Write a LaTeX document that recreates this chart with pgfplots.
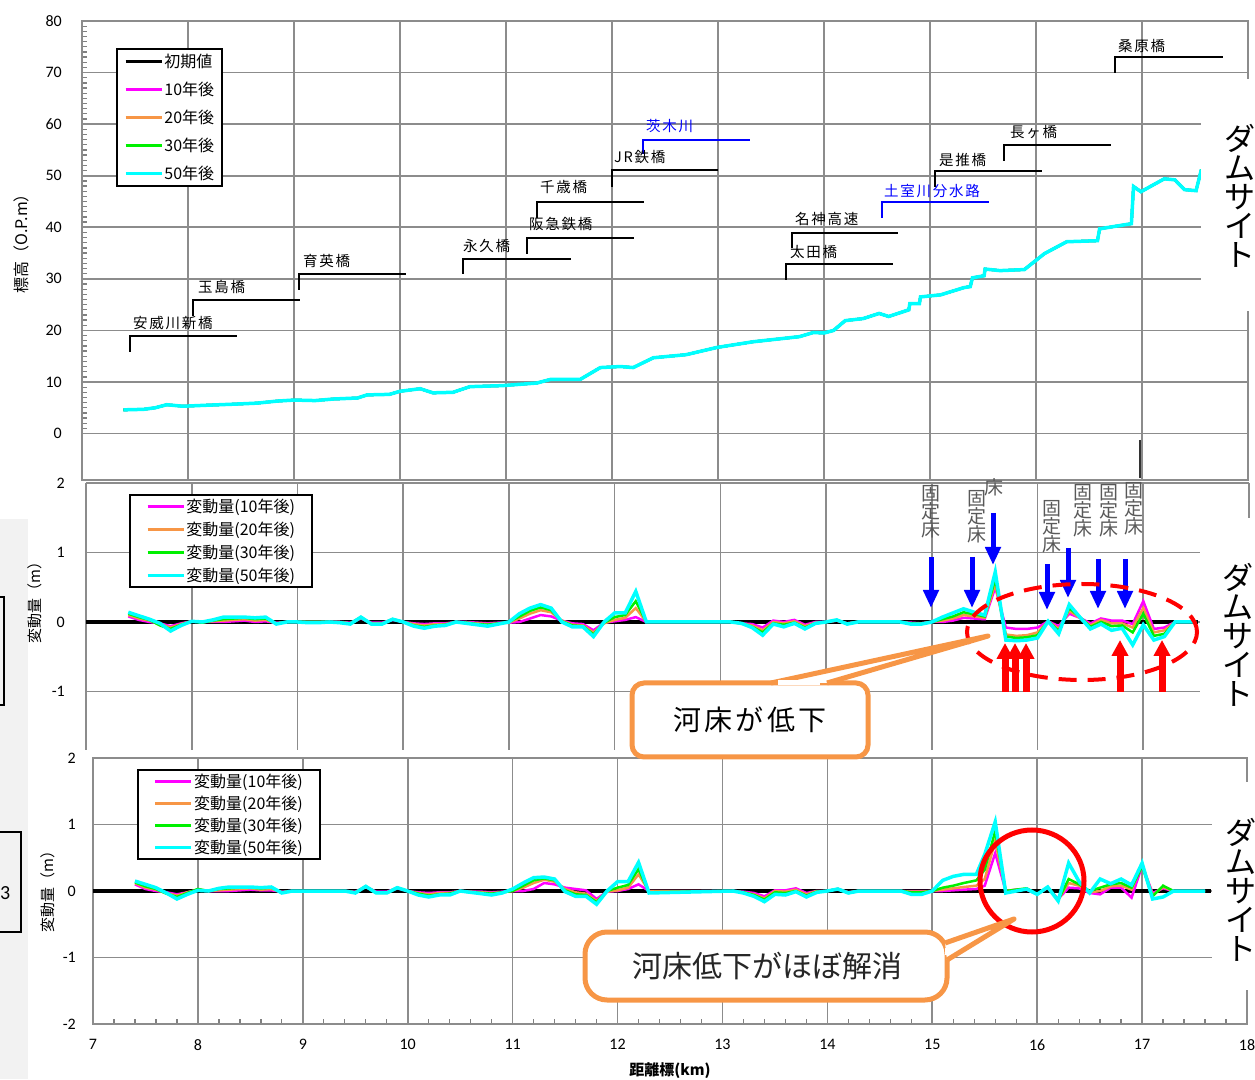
\documentclass[border=0pt]{standalone}
\usepackage{fontspec}
\setmainfont{Carlito}
\newfontfamily\jp{Noto Sans CJK JP}
\newfontfamily\jpls[LetterSpace=12]{Noto Sans CJK JP}
\usepackage{pgfplots}
\usepackage{pgfplotstable}
\pgfplotsset{compat=1.18}
\usetikzlibrary{arrows.meta}

\definecolor{gridgray}{RGB}{140,140,140}
\definecolor{cmag}{RGB}{255,0,255}
\definecolor{corange}{RGB}{247,150,70}
\definecolor{cgreen}{RGB}{0,240,0}
\definecolor{ccyan}{RGB}{0,255,255}
\definecolor{cblue}{RGB}{0,0,255}
\definecolor{cred}{RGB}{255,0,0}
\definecolor{callout}{RGB}{247,150,70}

\pgfplotstableread{
x y
7.39 4.6
7.58 4.7
7.69 5.0
7.80 5.6
7.95 5.3
8.18 5.5
8.43 5.7
8.65 5.9
8.84 6.3
9.00 6.5
9.20 6.4
9.37 6.7
9.60 6.9
9.69 7.5
9.90 7.6
10.00 8.2
10.19 8.7
10.31 7.9
10.50 8.0
10.66 9.1
10.97 9.3
11.29 9.8
11.42 10.5
11.70 10.5
11.89 12.8
12.08 13.0
12.20 12.8
12.39 14.7
12.70 15.3
12.99 16.7
13.33 17.8
13.77 18.8
13.90 19.6
14.00 19.5
14.09 20.0
14.20 21.9
14.37 22.3
14.52 23.3
14.61 22.7
14.80 24.0
14.81 25.2
14.90 25.2
14.91 26.5
15.10 26.9
15.32 28.3
15.38 28.5
15.40 30.2
15.51 30.6
15.52 31.9
15.66 31.6
15.89 31.8
16.08 34.9
16.29 37.2
16.58 37.4
16.60 39.7
16.90 40.7
16.92 47.9
16.99 46.9
17.21 49.4
17.31 49.2
17.40 47.3
17.51 47.1
17.56 51.2
}\tblTop

\pgfplotstableread{
x a b c d
7.4 0.08 0.10 0.12 0.14
7.5 0.03 0.05 0.07 0.09
7.6 0.00 0.02 0.03 0.04
7.7 -0.02 -0.03 -0.05 -0.02
7.8 -0.06 -0.08 -0.10 -0.13
7.9 -0.02 -0.03 -0.04 -0.05
8.0 0.01 0.01 0.01 0.01
8.1 0.00 0.00 -0.01 0.00
8.2 0.00 0.01 0.02 0.03
8.3 0.00 0.02 0.04 0.07
8.4 0.01 0.03 0.05 0.07
8.5 0.02 0.04 0.06 0.07
8.6 0.00 0.02 0.04 0.06
8.7 0.01 0.03 0.05 0.07
8.8 -0.01 -0.02 -0.02 -0.03
8.9 0.00 0.00 0.00 0.00
9.0 0.00 0.00 0.00 0.00
9.1 0.00 0.00 0.00 -0.01
9.2 0.00 0.00 0.00 -0.01
9.3 0.00 0.00 0.00 0.00
9.4 0.00 0.00 -0.01 -0.01
9.5 -0.01 -0.02 -0.02 -0.03
9.6 0.05 0.06 0.07 0.07
9.7 -0.01 -0.02 -0.03 -0.03
9.8 -0.01 -0.02 -0.03 -0.03
9.9 0.03 0.04 0.04 0.04
10.0 0.00 0.00 0.00 0.00
10.1 -0.02 -0.03 -0.05 -0.06
10.2 -0.03 -0.05 -0.07 -0.09
10.3 -0.02 -0.03 -0.05 -0.06
10.4 -0.02 -0.03 -0.04 -0.05
10.5 0.00 0.00 0.00 0.00
10.6 0.00 -0.01 -0.01 -0.02
10.7 -0.01 -0.02 -0.03 -0.04
10.8 -0.02 -0.03 -0.04 -0.06
10.9 -0.01 -0.02 -0.02 -0.03
11.0 -0.01 -0.01 0.00 0.00
11.1 0.00 0.05 0.08 0.12
11.2 0.05 0.12 0.16 0.20
11.3 0.10 0.17 0.21 0.25
11.4 0.08 0.14 0.17 0.20
11.5 0.02 0.02 0.01 0.00
11.6 -0.02 -0.04 -0.05 -0.07
11.7 -0.03 -0.05 -0.06 -0.07
11.8 -0.12 -0.15 -0.18 -0.21
11.9 -0.01 -0.02 -0.01 0.00
12.0 0.01 0.03 0.07 0.13
12.1 0.03 0.06 0.10 0.13
12.2 0.07 0.20 0.30 0.44
12.3 0.00 0.00 0.00 0.00
13.1 0.00 0.00 0.00 0.00
13.2 -0.02 -0.02 -0.02 -0.02
13.3 -0.03 -0.05 -0.07 -0.08
13.4 -0.08 -0.12 -0.15 -0.19
13.5 0.02 0.00 -0.02 -0.03
13.6 0.00 -0.02 -0.04 -0.07
13.7 0.03 0.01 -0.01 -0.02
13.8 -0.04 -0.06 -0.08 -0.10
13.9 0.00 -0.01 -0.02 -0.02
14.0 0.00 0.00 0.00 0.00
14.1 0.02 0.02 0.03 0.03
14.2 -0.02 -0.02 -0.03 -0.03
14.3 0.00 0.00 0.00 0.00
14.7 0.00 0.00 0.00 0.00
14.8 -0.01 -0.02 -0.02 -0.03
14.9 -0.02 -0.02 -0.03 -0.03
15.0 0.00 0.00 0.00 0.00
15.1 0.00 0.02 0.04 0.07
15.2 0.02 0.05 0.08 0.13
15.3 0.06 0.10 0.14 0.19
15.4 0.05 0.08 0.11 0.14
15.5 0.04 0.06 0.08 0.10
15.6 0.50 0.55 0.62 0.72
15.7 -0.08 -0.18 -0.21 -0.26
15.8 -0.10 -0.20 -0.23 -0.27
15.9 -0.10 -0.19 -0.22 -0.26
16.0 -0.08 -0.15 -0.19 -0.23
16.1 0.01 0.01 0.01 0.01
16.2 -0.06 -0.10 -0.13 -0.17
16.3 0.12 0.16 0.20 0.25
16.4 0.06 0.06 0.07 0.07
16.5 -0.02 -0.05 -0.07 -0.10
16.6 0.05 0.03 0.00 -0.03
16.7 0.02 -0.02 -0.06 -0.12
16.8 0.02 -0.02 -0.05 -0.09
16.9 -0.03 -0.08 -0.15 -0.33
17.0 0.30 0.20 0.12 -0.04
17.1 -0.10 -0.15 -0.20 -0.26
17.2 -0.08 -0.12 -0.17 -0.21
17.3 0.00 0.00 0.00 0.00
17.5 0.00 0.00 0.00 0.00
}\tblMid

\pgfplotstableread{
x a b c d
7.4 0.10 0.12 0.13 0.15
7.5 0.03 0.05 0.07 0.10
7.6 0.00 0.02 0.03 0.05
7.7 -0.02 -0.03 -0.04 -0.03
7.8 -0.05 -0.07 -0.09 -0.12
7.9 -0.02 -0.02 -0.03 -0.05
8.0 0.02 0.02 0.03 0.01
8.1 0.00 0.00 0.00 0.00
8.2 0.00 0.01 0.03 0.04
8.3 0.00 0.02 0.04 0.06
8.4 0.01 0.03 0.05 0.06
8.5 0.02 0.04 0.05 0.06
8.6 0.01 0.02 0.04 0.05
8.7 0.01 0.03 0.05 0.06
8.8 -0.01 -0.02 -0.02 -0.03
8.9 0.00 0.00 0.00 0.00
9.4 0.00 0.00 0.00 0.00
9.5 -0.01 -0.02 -0.02 -0.03
9.6 0.06 0.07 0.07 0.07
9.7 -0.01 -0.02 -0.03 -0.03
9.8 -0.01 -0.02 -0.03 -0.03
9.9 0.04 0.05 0.05 0.05
10.0 0.00 0.00 0.00 0.00
10.1 -0.02 -0.03 -0.04 -0.06
10.2 -0.03 -0.05 -0.07 -0.09
10.3 -0.02 -0.03 -0.05 -0.06
10.4 -0.02 -0.03 -0.04 -0.06
10.5 0.00 0.00 0.00 0.00
10.6 -0.01 -0.01 -0.02 -0.02
10.7 -0.01 -0.02 -0.03 -0.04
10.8 -0.02 -0.03 -0.04 -0.06
10.9 -0.01 -0.02 -0.02 -0.03
11.0 0.00 0.00 0.00 0.03
11.1 0.00 0.05 0.08 0.12
11.2 0.03 0.12 0.16 0.20
11.3 0.12 0.17 0.19 0.21
11.4 0.10 0.14 0.16 0.18
11.5 0.05 0.03 0.01 -0.01
11.6 0.03 -0.02 -0.05 -0.08
11.7 0.01 -0.04 -0.06 -0.08
11.8 -0.12 -0.15 -0.17 -0.20
11.9 -0.01 -0.01 0.00 0.00
12.0 0.00 0.01 0.05 0.14
12.1 0.03 0.05 0.09 0.14
12.2 0.10 0.25 0.33 0.43
12.3 0.00 0.00 -0.02 -0.03
13.1 0.00 0.00 0.00 0.00
13.2 -0.01 -0.02 -0.02 -0.03
13.3 -0.03 -0.05 -0.06 -0.08
13.4 -0.08 -0.11 -0.13 -0.16
13.5 0.01 0.00 -0.02 -0.05
13.6 0.01 -0.01 -0.03 -0.06
13.7 0.04 0.02 0.00 -0.01
13.8 -0.03 -0.05 -0.07 -0.09
13.9 0.00 0.00 -0.01 -0.02
14.0 0.00 0.00 0.00 0.00
14.1 0.03 0.03 0.03 0.03
14.2 -0.02 -0.02 -0.03 -0.03
14.3 0.00 0.00 0.00 0.00
14.7 0.00 0.00 0.00 0.00
14.8 0.00 -0.01 -0.02 -0.05
14.9 0.00 -0.01 -0.02 -0.05
15.0 0.00 0.00 0.00 0.00
15.1 0.00 0.02 0.05 0.16
15.2 0.01 0.04 0.08 0.22
15.3 0.02 0.06 0.12 0.25
15.42 0.03 0.08 0.16 0.25
15.5 0.08 0.18 0.32 0.55
15.6 0.57 0.75 0.90 1.04
15.7 0.00 0.00 0.00 -0.03
15.8 0.02 0.02 0.02 0.00
15.9 0.02 0.03 0.04 0.03
16.0 -0.05 -0.05 -0.05 -0.05
16.1 0.05 0.05 0.06 0.06
16.2 -0.12 -0.13 -0.14 -0.15
16.3 0.05 0.12 0.18 0.42
16.4 0.04 0.08 0.10 0.14
16.5 -0.03 -0.02 0.00 -0.03
16.6 -0.05 0.00 0.05 0.18
16.7 0.05 0.07 0.10 0.11
16.8 0.05 0.08 0.12 0.18
16.9 -0.10 0.02 0.05 0.09
17.0 0.38 0.40 0.37 0.42
17.1 -0.03 -0.06 -0.08 -0.12
17.2 0.04 0.06 0.08 -0.09
17.3 0.00 0.00 0.00 0.00
17.6 0.00 0.00 0.00 0.00
}\tblBot

\pgfplotsset{
 panel/.style={
  scale only axis, xmin=7, xmax=18, xtick={7,...,18},
  grid=major, grid style={line width=1.6pt, draw=gridgray},
  axis line style={line width=1.6pt, draw=gridgray},
  major tick length=0pt, minor tick length=5pt,
  minor tick style={line width=1.3pt, draw=gray},
  tick align=inside,
  /pgf/number format/assume math mode=true,
  ticklabel style={font=\fontsize{16}{16}\selectfont, text=black},
  legend cell align=left,
  legend image code/.code={\draw[##1, line width=3.5pt] (0pt,0pt) -- (36pt,0pt);},
 },
}

\begin{document}
\begin{tikzpicture}
\path[use as bounding box] (0pt,0pt) rectangle (1255pt,1079pt);
\fill[black!5] (0pt,0pt) rectangle (28pt,560pt);

% ---------- top panel ----------
\begin{axis}[panel, at={(82pt,599pt)}, anchor=south west, width=1166pt, height=459pt,
  ymin=-9, ymax=80, ytick={0,10,...,80}, minor y tick num=9, xticklabels={},
  ytick pos=left, xtick pos=bottom,
  yticklabel style={anchor=east, inner sep=0pt, xshift=-20pt},
  legend style={at={(0.0292,0.941)}, anchor=north west, draw=black, line width=1.8pt,
    fill=white, font=\jp\fontsize{16}{16}\selectfont, inner xsep=7pt, inner ysep=4pt,
    row sep=11pt, nodes={inner sep=1pt}},
]
\addplot[black, line width=2.5pt] table[x=x,y=y]{\tblTop}; \addlegendentry{初期値}
\addplot[cmag, line width=2.5pt] table[x=x,y=y]{\tblTop}; \addlegendentry{10年後}
\addplot[corange, line width=2.5pt] table[x=x,y=y]{\tblTop}; \addlegendentry{20年後}
\addplot[cgreen, line width=2.5pt] table[x=x,y=y]{\tblTop}; \addlegendentry{30年後}
\addplot[ccyan, line width=3.5pt] table[x=x,y=y]{\tblTop}; \addlegendentry{50年後}
\end{axis}

% ---------- middle panel ----------
\begin{axis}[panel, at={(86pt,329pt)}, anchor=south west, width=1163pt, height=267pt,
  ymin=-1.842, ymax=2, ytick={-1,0,1,2}, xticklabels={},
  axis x line*=top, axis y line*=left,
  yticklabel style={anchor=east, inner sep=0pt, xshift=-21pt},
  legend style={at={(0.037,0.959)}, anchor=north west, draw=black, line width=1.8pt,
    fill=white, font=\jp\fontsize{16}{16}\selectfont, inner xsep=16pt, inner ysep=3pt,
    row sep=6pt, nodes={inner sep=1pt}},
]
\addplot[black, line width=3.5pt, forget plot] coordinates {(7,0) (17.52,0)};
\addplot[cmag, line width=2.5pt] table[x=x,y=a]{\tblMid}; \addlegendentry{変動量(10年後)}
\addplot[corange, line width=2.5pt] table[x=x,y=b]{\tblMid}; \addlegendentry{変動量(20年後)}
\addplot[cgreen, line width=2.5pt] table[x=x,y=c]{\tblMid}; \addlegendentry{変動量(30年後)}
\addplot[ccyan, line width=3.5pt] table[x=x,y=d]{\tblMid}; \addlegendentry{変動量(50年後)}
\end{axis}

% ---------- bottom panel ----------
\begin{axis}[panel, at={(93pt,55pt)}, anchor=south west, width=1154pt, height=266pt,
  ymin=-2, ymax=2, ytick={-2,...,2}, minor x tick num=4, xtick pos=bottom, ytick pos=left,
  yticklabel style={anchor=east, inner sep=0pt, xshift=-17pt},
  xticklabel style={anchor=north, inner sep=0pt, yshift=-15pt},
  legend style={at={(0.038,0.959)}, anchor=north west, draw=black, line width=1.8pt,
    fill=white, font=\jp\fontsize{16}{16}\selectfont, inner xsep=16pt, inner ysep=3pt,
    row sep=5pt, nodes={inner sep=1pt}},
]
\addplot[black, line width=3.5pt, forget plot] coordinates {(7,0) (17.66,0)};
\addplot[cmag, line width=2.5pt] table[x=x,y=a]{\tblBot}; \addlegendentry{変動量(10年後)}
\addplot[corange, line width=2.5pt] table[x=x,y=b]{\tblBot}; \addlegendentry{変動量(20年後)}
\addplot[cgreen, line width=2.5pt] table[x=x,y=c]{\tblBot}; \addlegendentry{変動量(30年後)}
\addplot[ccyan, line width=3.5pt] table[x=x,y=d]{\tblBot}; \addlegendentry{変動量(50年後)}
\end{axis}

% ---------- annotations (pixel coordinates, y downward) ----------
\begin{scope}[shift={(0pt,1079pt)}, x=1pt, y=-1pt]
 % axis titles
 \node[rotate=90, font=\jp\fontsize{16}{16}\selectfont] at (21,240) {標高（O.P.m）};
 \node[rotate=90, font=\jp\fontsize{15}{15}\selectfont] at (35,599) {変動量（m）};
 \node[rotate=90, font=\jp\fontsize{15}{15}\selectfont] at (48,888) {変動量（m）};
 \node[font=\jp\bfseries\fontsize{15}{15}\selectfont] at (670,1071) {距離標(km)};
 % left fragments
 \draw[black, line width=1.5pt] (-5,597) -- (4,597) -- (4,705) -- (-5,705);
 \draw[black, line width=1.5pt] (-5,832) -- (21,832) -- (21,932) -- (-5,932);
 \node[font=\fontsize{20}{20}\selectfont, anchor=west, inner sep=0pt] at (0,893) {3};
 \draw[black!80, line width=2pt] (1140,440) -- (1140,478);

 % bridges
 \begin{scope}[line width=2.6pt]
 \draw (130,352) -- (130,336) -- (237,336);
 \draw (193,316) -- (193,300) -- (300,300);
 \draw (299,290) -- (299,274) -- (406,274);
 \draw (463,274) -- (463,259) -- (571,259);
 \draw (527,254) -- (527,238) -- (634,238);
 \draw (537,218) -- (537,202) -- (644,202);
 \draw (612,187) -- (612,170) -- (718,170);
 \draw[cblue] (643,154) -- (643,140) -- (750,140);
 \draw (792,248) -- (792,233) -- (898,233);
 \draw (786,280) -- (786,264) -- (893,264);
 \draw[cblue] (882,218) -- (882,202) -- (989,202);
 \draw (935,187) -- (935,171) -- (1042,171);
 \draw (1004,161) -- (1004,145) -- (1111,145);
 \draw (1115,73) -- (1115,57) -- (1223,57);
 \end{scope}
 \begin{scope}[every node/.style={anchor=west, inner sep=0pt, font=\jpls\fontsize{14.5}{14.5}\selectfont}]
 \node at (133,323) {安威川新橋};
 \node at (198,287) {玉島橋};
 \node at (303,261) {育英橋};
 \node at (463,246) {永久橋};
 \node at (529,224) {阪急鉄橋};
 \node at (540,187) {千歳橋};
 \node at (614,157) {JR鉄橋};
 \node[text=cblue] at (646,126) {茨木川};
 \node at (795,219) {名神高速};
 \node at (790,252) {太田橋};
 \node[text=cblue] at (884,191) {土室川分水路};
 \node at (939,160) {是推橋};
 \node at (1010,132) {長ヶ橋};
 \node at (1118,46) {桑原橋};
 \end{scope}

 % dam site labels
 \fill[white] (1201,79) rectangle (1256,311);
 \fill[white] (1200,518) rectangle (1256,757);
 \fill[white] (1212,782) rectangle (1256,990);
 \node[font=\jp\fontsize{31}{29}\selectfont, align=center] at (1240,196) {ダ\\ム\\サ\\イ\\ト};
 \node[font=\jp\fontsize{31}{29}\selectfont, align=center] at (1238,635) {ダ\\ム\\サ\\イ\\ト};
 \node[font=\jp\fontsize{31}{29}\selectfont, align=center] at (1241,890) {ダ\\ム\\サ\\イ\\ト};

 % fixed bed labels
 \begin{scope}[every node/.style={font=\jp\fontsize{19}{18}\selectfont, text=black!65, align=center}]
 \node at (931,512) {固\\定\\床};
 \node at (977,517) {固\\定\\床};
 \node at (994,487) {床};
 \node at (1052,527) {固\\定\\床};
 \node at (1083,511) {固\\定\\床};
 \node at (1109,511) {固\\定\\床};
 \node at (1134,509) {固\\定\\床};
 \end{scope}

 % blue arrows
 \begin{scope}[cblue, line width=5pt, -{Triangle[width=15pt,length=18pt]}]
 \draw (931,557) -- (931,608);
 \draw (972,557) -- (972,608);
 \draw (993,513) -- (993,565);
 \draw (1047,564) -- (1047,610);
 \draw (1068,548) -- (1068,598);
 \draw (1098,559) -- (1098,609);
 \draw (1125,559) -- (1125,609);
 \end{scope}

 % dashed ellipse
 \draw[cred, line width=4pt, dash pattern=on 18pt off 11pt] (1082,632) ellipse [x radius=115pt, y radius=48pt];

 % red arrows
 \begin{scope}[cred, line width=7pt, -{Triangle[width=16pt,length=16pt]}]
 \draw (1005,692) -- (1005,643);
 \draw (1015,692) -- (1015,643);
 \draw (1026,692) -- (1026,643);
 \draw (1120,692) -- (1120,640);
 \draw (1162,692) -- (1162,640);
 \end{scope}

 % callout 1
 \draw[callout, line width=5pt, fill=white, rounded corners=12pt] (632,683) rectangle (868,757);
 \draw[callout, line width=5pt, fill=white, line join=round] (771,683) -- (988,636) -- (827,683);
 \draw[white, line width=5pt] (778,683) -- (820,683);
 \node[font=\jpls\fontsize{28}{28}\selectfont] at (750,720) {河床が低下};

 % red circle
 \draw[cred, line width=5pt] (1032,881) ellipse [x radius=52pt, y radius=51pt];

 % callout 2
 \draw[callout, line width=5pt, fill=white, rounded corners=22pt] (585,932) rectangle (947,1000);
 \draw[callout, line width=5pt, fill=white, line join=round] (945,943) -- (1014,919) -- (947,960);
 \draw[white, line width=5pt] (947,948) -- (947,955);
 \node[font=\jp\fontsize{30}{30}\selectfont, text=black!85] at (767,966) {河床低下がほぼ解消};
\end{scope}
\end{tikzpicture}
\end{document}
